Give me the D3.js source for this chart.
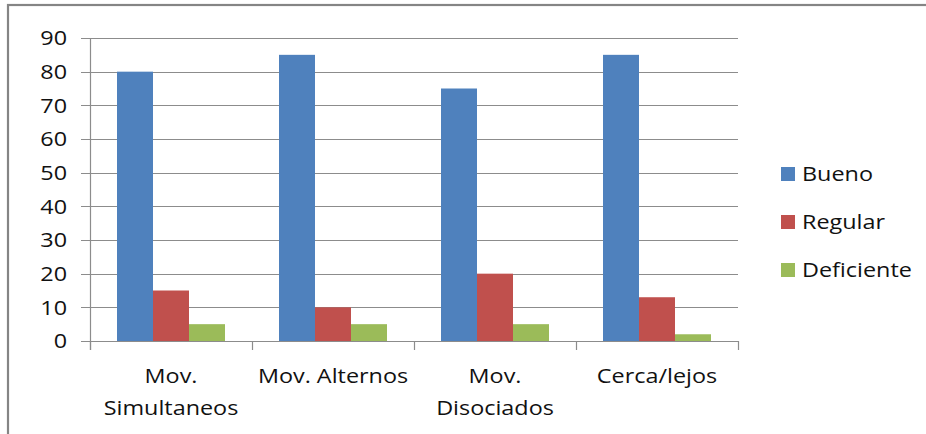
<!DOCTYPE html>
<html><head><meta charset="utf-8">
<script src="https://cdn.jsdelivr.net/npm/d3@7"></script>
<style>
html,body{margin:0;padding:0;background:#fff;}
svg{display:block;}
text{font-family:"Open Sans","DejaVu Sans",sans-serif;font-size:20px;fill:#111;}
</style></head>
<body>
<svg id="chart" width="926" height="434"></svg>
<script>
const categories = [["Mov.","Simultaneos"],["Mov. Alternos"],["Mov.","Disociados"],["Cerca/lejos"]];
const seriesNames = ["Bueno","Regular","Deficiente"];
const bueno = [80,85,75,85];
const regular = [15,10,20,13];
const deficiente = [5,5,5,2];
const yTicks = [0,10,20,30,40,50,60,70,80,90];
const colors = ["#4F81BD","#C0504D","#9BBB59"];

(function(){
const series = [bueno, regular, deficiente];
const svg = d3.select("#chart");
const SX = 1.17; // horizontal text stretch

svg.append("rect").attr("x",8).attr("y",5).attr("width",1000).attr("height",1000)
  .attr("fill","none").attr("stroke","#858585").attr("stroke-width",2.2);

const pl = 90, pr = 738, pt = 38, pb = 341;
const catIdx = d3.range(categories.length);
const x0 = d3.scaleBand().domain(catIdx).range([pl,pr]).padding(0);
const bw = x0.bandwidth()/4.5;
const x1 = d3.scaleBand().domain(d3.range(3)).range([bw*0.75, bw*3.75]).padding(0);
const y = d3.scaleLinear().domain([0,90]).range([pb,pt]);

svg.append("g").selectAll("line").data(yTicks).join("line")
  .attr("x1",pl-9).attr("x2",pr)
  .attr("y1",d=>Math.round(y(d))+0.5).attr("y2",d=>Math.round(y(d))+0.5)
  .attr("stroke","#8c8c8c").attr("stroke-width",1.2);

svg.append("g").selectAll("text").data(yTicks).join("text")
  .attr("transform",d=>`translate(67,${y(d)}) scale(${SX},1)`)
  .attr("text-anchor","end").attr("dy","0.36em").text(d=>d);

catIdx.forEach(i=>{
  series.forEach((s,j)=>{
    svg.append("rect")
      .attr("x",x0(i)+x1(j)).attr("width",x1.bandwidth())
      .attr("y",y(s[i])).attr("height",y(0)-y(s[i]))
      .attr("fill",colors[j]);
  });
});

svg.append("line").attr("x1",pl+0.5).attr("x2",pl+0.5).attr("y1",pt).attr("y2",pb+9)
  .attr("stroke","#8c8c8c").attr("stroke-width",1.2);
svg.append("line").attr("x1",pl).attr("x2",pr).attr("y1",Math.round(y(0))+0.5).attr("y2",Math.round(y(0))+0.5)
  .attr("stroke","#8c8c8c").attr("stroke-width",1.2);
const catTicks = catIdx.map(i=>x0(i)).concat([pr]);
svg.append("g").selectAll("line").data(catTicks).join("line")
  .attr("x1",d=>Math.round(d)+0.5).attr("x2",d=>Math.round(d)+0.5)
  .attr("y1",pb).attr("y2",pb+9)
  .attr("stroke","#8c8c8c").attr("stroke-width",1.2);

catIdx.forEach(i=>{
  const cx = x0(i)+x0.bandwidth()/2;
  categories[i].forEach((line,k)=>{
    svg.append("text").attr("transform",`translate(${cx},${383+k*32}) scale(${SX},1)`)
      .attr("text-anchor","middle").text(line);
  });
});

seriesNames.forEach((n,j)=>{
  const g = svg.append("g").attr("transform",`translate(781,${167+j*48})`);
  g.append("rect").attr("width",14).attr("height",14).attr("fill",colors[j]);
  g.append("text").attr("transform",`translate(21,14) scale(${SX},1)`).text(n);
});
})();
</script>
</body></html>
